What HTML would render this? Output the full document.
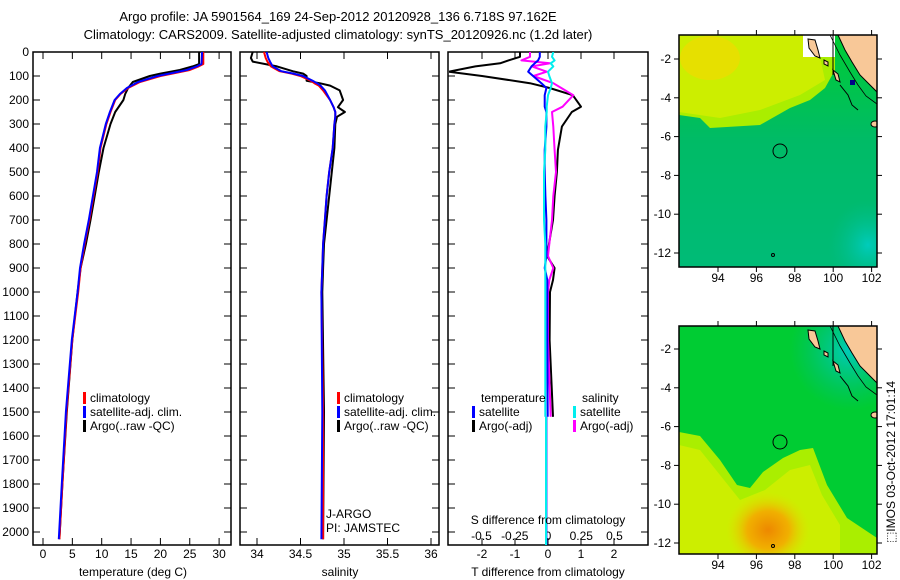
<!DOCTYPE html>
<html><head><meta charset="utf-8">
<style>
body{margin:0;background:#fff;}
svg{display:block;font-family:"Liberation Sans",sans-serif;}
text{font-size:12px;fill:#000;}
</style></head>
<body>
<svg id="chart" width="900" height="580" viewBox="0 0 900 580" xmlns="http://www.w3.org/2000/svg">
<text x="338" y="21" text-anchor="middle" style="font-size:13px">Argo profile: JA 5901564_169 24-Sep-2012 20120928_136 6.718S 97.162E</text>
<text x="338" y="39" text-anchor="middle" style="font-size:13px">Climatology: CARS2009. Satellite-adjusted climatology: synTS_20120926.nc (1.2d later)</text>
<g id="maps"></g>
<g id="panels"></g>
<text transform="translate(895,462) rotate(-90)" text-anchor="middle">⬚IMOS 03-Oct-2012 17:01:14</text>
</svg>
<script>
// ---- data ----
const depthT = [0,50,60,75,90,100,125,150,175,200,250,300,400,500,600,700,800,900,1000,1200,1500,1800,2030];
const tempClim = [27.3,27.3,26.5,25,22,20,16.5,14.5,13.2,12.3,11.5,10.8,9.8,9.3,8.6,7.9,7.1,6.4,6.0,5.0,4.0,3.3,2.8];
const tempSat = [27.1,27.0,26.2,24.5,21.5,19.5,16.2,14.3,13.1,12.2,11.4,10.7,9.7,9.2,8.5,7.8,7.0,6.3,5.9,4.9,3.9,3.2,2.7];
const tempArgo = [26.6,26.6,25.5,23.3,20,18.2,15.3,14.5,14.0,13.7,12.3,11.5,10.3,9.5,8.8,8.1,7.3,6.4,5.9,5.0,4.05,3.3,2.8];
const depthS = [0,25,40,60,80,90,100,120,130,140,160,200,230,250,270,300,400,500,600,700,800,900,1000,1500,2030];
const salClim = [34.08,34.10,34.12,34.16,34.26,34.4,34.5,34.62,34.66,34.71,34.76,34.84,34.88,34.9,34.9,34.89,34.87,34.83,34.8,34.78,34.76,34.75,34.74,34.76,34.76];
const salSat = [34.11,34.13,34.15,34.18,34.28,34.42,34.53,34.64,34.69,34.73,34.78,34.84,34.88,34.9,34.9,34.89,34.87,34.83,34.8,34.78,34.76,34.75,34.74,34.75,34.74];
const salArgo = [33.95,33.93,33.95,34.23,34.41,34.53,34.57,34.57,34.72,34.84,34.95,34.99,34.93,35.01,34.92,34.90,34.89,34.86,34.83,34.80,34.77,34.76,34.75,34.77,34.76];
const depthD = [0,20,35,47,60,82,100,130,150,180,228,250,311,408,500,600,700,800,850,900,950,1000,1200,1520];
const dTsat = [-0.25,-0.25,-0.3,-0.4,-0.5,-0.6,-0.45,-0.2,-0.05,-0.1,-0.1,-0.05,-0.05,-0.1,-0.1,-0.08,-0.05,-0.05,-0.05,-0.1,-0.02,-0.02,-0.02,-0.01];
const dTargo = [-0.85,-0.85,-1.2,-1.45,-2.2,-3.0,-2.0,-0.55,0.05,0.75,1.0,0.72,0.42,0.3,0.27,0.2,0.15,0.03,-0.03,0.2,0.15,0.06,0.05,0.15];
const dSsat = [0.04,0.03,0.05,0.02,0.04,0.0,0.01,0.03,0.02,0.0,-0.01,-0.01,-0.02,-0.02,-0.03,-0.03,-0.03,-0.02,-0.02,-0.02,-0.02,-0.02,-0.02,-0.02];
const dSargo = [-0.135,-0.135,-0.2,0.015,-0.12,-0.01,-0.11,0.04,0.1,0.19,0.11,0.03,0.04,0.05,0.06,0.04,0.03,0.01,0.0,0.04,0.01,0.0,0.0,0.02];
const depthTicks = [0,100,200,300,400,500,600,700,800,900,1000,1100,1200,1300,1400,1500,1600,1700,1800,1900,2000];
const tempTicks = [0,5,10,15,20,25,30];
const salTicks = [34,34.5,35,35.5,36];
const salTickLabels = ["34","34.5","35","35.5","36"];
const dTTicks = [-2,-1,0,1,2];
const dSTicks = [-0.5,-0.25,0,0.25,0.5];
const dSTickLabels = ["-0.5","-0.25","0","0.25","0.5"];
const lonTicks = [94,96,98,100,102];
const latTicks = [-2,-4,-6,-8,-10,-12];

const NS="http://www.w3.org/2000/svg";
function mk(tag,attrs,parent,txt){const e=document.createElementNS(NS,tag);for(const k in attrs)e.setAttribute(k,attrs[k]);if(txt!==undefined)e.textContent=txt;parent.appendChild(e);return e;}
const panels=document.getElementById('panels');
const Y0=52,Y1=545;
const yD=d=>52+d*0.24;
const xT=t=>43+t*5.87;
const xS=s=>257+(s-34)*87;
const xDT=t=>548+t*33;
const xDS=s=>548+s*133;

function frame(x0,x1,name){
  const r=mk('rect',{x:x0,y:Y0,width:x1-x0,height:Y1-Y0,fill:'none',stroke:'#000','stroke-width':1.5},panels);
  
  
  depthTicks.forEach(d=>{
    mk('line',{x1:x0,x2:x0+7,y1:yD(d),y2:yD(d),stroke:'#000'},panels);
    mk('line',{x1:x1-7,x2:x1,y1:yD(d),y2:yD(d),stroke:'#000'},panels);
  });
}
function line(xs,ds,fx,color,w,name,clipId){
  const pts=xs.map((v,i)=>fx(v).toFixed(1)+','+yD(ds[i]).toFixed(1)).join(' ');
  const p=mk('polyline',{points:pts,fill:'none',stroke:color,'stroke-width':w,'stroke-linejoin':'round'},panels);
  if(clipId)p.setAttribute('clip-path','url(#'+clipId+')');
  
  
}
const defs=mk('defs',{},panels);
const cp=mk('clipPath',{id:'c3'},defs);mk('rect',{x:449,y:52,width:198,height:493},cp);

// Panel 1
frame(33,231,'temperature-panel-frame');
depthTicks.forEach(d=>{
  const t=mk('text',{x:29,y:yD(d)+4,'text-anchor':'end'},panels,String(d));
  
  
});
tempTicks.forEach(v=>{
  mk('line',{x1:xT(v),x2:xT(v),y1:Y1,y2:Y1-7,stroke:'#000'},panels);
  mk('line',{x1:xT(v),x2:xT(v),y1:Y0,y2:Y0+7,stroke:'#000'},panels);
  const t=mk('text',{x:xT(v),y:558,'text-anchor':'middle'},panels,String(v));
  
  
});
line(tempArgo,depthT,xT,'#000',2,'temperature-argo-line');
line(tempClim,depthT,xT,'#f00',2,'temperature-climatology-line');
line(tempSat,depthT,xT,'#00f',2,'temperature-satellite-line');
mk('text',{x:133,y:576,'text-anchor':'middle',},panels,'temperature (deg C)');

// Panel 2
frame(240,439,'salinity-panel-frame');
salTicks.forEach((v,i)=>{
  mk('line',{x1:xS(v),x2:xS(v),y1:Y1,y2:Y1-7,stroke:'#000'},panels);
  mk('line',{x1:xS(v),x2:xS(v),y1:Y0,y2:Y0+7,stroke:'#000'},panels);
  const t=mk('text',{x:xS(v),y:558,'text-anchor':'middle'},panels,salTickLabels[i]);
  
  
});
line(salArgo,depthS,xS,'#000',2,'salinity-argo-line');
line(salClim,depthS,xS,'#f00',2,'salinity-climatology-line');
line(salSat,depthS,xS,'#00f',2,'salinity-satellite-line');
mk('text',{x:340,y:576,'text-anchor':'middle',},panels,'salinity');
mk('text',{x:326,y:518,},panels,'J-ARGO');
mk('text',{x:326,y:532,},panels,'PI: JAMSTEC');

// Panel 3
frame(448,648,'difference-panel-frame');
dTTicks.forEach(v=>{
  mk('line',{x1:xDT(v),x2:xDT(v),y1:Y1,y2:Y1-7,stroke:'#000'},panels);
  mk('line',{x1:xDT(v),x2:xDT(v),y1:Y0,y2:Y0+7,stroke:'#000'},panels);
  const t=mk('text',{x:xDT(v),y:558,'text-anchor':'middle'},panels,String(v));
  
  
});
dSTicks.forEach((v,i)=>{
  const t=mk('text',{x:xDS(v),y:540,'text-anchor':'middle'},panels,dSTickLabels[i]);
  
  
});
line(dTargo,depthD,xDT,'#000',2,'t-difference-argo-line','c3');
line(dSargo,depthD,xDS,'#f0f',2,'s-difference-argo-line','c3');
line(dTsat,depthD,xDT,'#00f',2,'t-difference-satellite-line','c3');
line(dSsat,depthD,xDS,'#0ee',2,'s-difference-satellite-line','c3');
mk('line',{x1:xDT(-0.05),x2:xDT(-0.05),y1:yD(1520),y2:Y1,stroke:'#00f','stroke-width':2},panels);
mk('line',{x1:xDS(-0.015),x2:xDS(-0.015),y1:yD(1520),y2:Y1,stroke:'#0ee','stroke-width':2},panels);
mk('text',{x:548,y:524,'text-anchor':'middle',},panels,'S difference from climatology');
mk('text',{x:548,y:576,'text-anchor':'middle',},panels,'T difference from climatology');

// legends
function leg(x,y,color,label,name){
  mk('rect',{x:x,y:y-10,width:3,height:12,fill:color},panels);
  const t=mk('text',{x:x+7,y:y},panels,label);
  
  
}
leg(83,402,'#f00','climatology','legend-climatology');
leg(83,416,'#00f','satellite-adj. clim.','legend-satellite');
leg(83,430,'#000','Argo(..raw -QC)','legend-argo');
leg(337,402,'#f00','climatology','legend-climatology-2');
leg(337,416,'#00f','satellite-adj. clim.','legend-satellite-2');
leg(337,430,'#000','Argo(..raw -QC)','legend-argo-2');
mk('text',{x:481,y:402,},panels,'temperature');
mk('text',{x:582,y:402,},panels,'salinity');
leg(472,416,'#00f','satellite','legend-t-satellite');
leg(472,430,'#000','Argo(-adj)','legend-t-argo');
leg(573,416,'#0ee','satellite','legend-s-satellite');
leg(573,430,'#f0f','Argo(-adj)','legend-s-argo');

// ---- maps ----
const maps=document.getElementById('maps');
const xLon=l=>718+(l-94)*19.2;
function drawMap(top,name,fills){
  const g=mk('g',{},maps);
  
  
  const cid='clip'+top;
  const c=mk('clipPath',{id:cid},g);mk('rect',{x:679,y:top,width:198,height:top===35?232:228},c);
  const inner=mk('g',{'clip-path':'url(#'+cid+')'},g);
  fills(inner,top);
  const dy=top-35;
  mk('polygon',{points:`838,${35+dy} 845,${50+dy} 852,${62+dy} 860,${75+dy} 870,${85+dy} 877,${92+dy} 877,${35+dy}`,fill:'#f8c898',stroke:'#000'},inner);
  mk('polyline',{points:`830,${35+dy} 840,${55+dy} 850,${72+dy} 858,${85+dy} 866,${96+dy} 877,${104+dy}`,fill:'none',stroke:'#000','stroke-width':0.8},inner);
  mk('line',{x1:833,x2:833,y1:35+dy,y2:75+dy,stroke:'#000'},inner);
  mk('polygon',{points:`808,${39+dy} 815,${40+dy} 818,${50+dy} 820,${58+dy} 815,${56+dy} 809,${48+dy}`,fill:'#f8c898',stroke:'#000'},inner);
  mk('polygon',{points:`824,${60+dy} 828,${62+dy} 828,${66+dy} 824,${64+dy}`,fill:'#f8c898',stroke:'#000'},inner);
  mk('polygon',{points:`833,${70+dy} 838,${74+dy} 840,${82+dy} 836,${80+dy}`,fill:'#f8c898',stroke:'#000'},inner);
  mk('polyline',{points:`840,${85+dy} 848,${95+dy} 852,${105+dy} 858,${110+dy}`,fill:'none',stroke:'#000'},inner);
  mk('ellipse',{cx:875,cy:124+dy,rx:4,ry:3,fill:'#f8c898',stroke:'#000'},inner);
  mk('circle',{cx:773,cy:255+dy,r:1.5,fill:'none',stroke:'#000'},inner);
  mk('circle',{cx:780,cy:151+dy,r:7,fill:'none',stroke:'#000'},inner);
  mk('rect',{x:679,y:top,width:198,height:top===35?232:228,fill:'none',stroke:'#000','stroke-width':1.5},g);
  const bottom=top===35?267:554;
  lonTicks.forEach(l=>{
    mk('line',{x1:xLon(l),x2:xLon(l),y1:top,y2:top-5,stroke:'#000'},g);
    mk('line',{x1:xLon(l),x2:xLon(l),y1:bottom,y2:bottom+5,stroke:'#000'},g);
    const t=mk('text',{x:xLon(l),y:bottom+15,'text-anchor':'middle'},g,String(l));
    
    
  });
  latTicks.forEach(la=>{
    const y=(top===35?59:349)+(-2-la)*19.4;
    mk('line',{x1:679,x2:674,y1:y,y2:y,stroke:'#000'},g);
    mk('line',{x1:877,x2:882,y1:y,y2:y,stroke:'#000'},g);
    const t=mk('text',{x:671,y:y+4,'text-anchor':'end'},g,String(la));
    
    
  });
}
const gdefs=mk('defs',{},maps);
const g1=mk('linearGradient',{id:'g1',x1:0,y1:0,x2:0,y2:1},gdefs);
mk('stop',{offset:'0','stop-color':'#00cc33'},g1);mk('stop',{offset:'0.45','stop-color':'#00bb66'},g1);mk('stop',{offset:'1','stop-color':'#00bb77'},g1);
const g2=mk('radialGradient',{id:'g2',cx:0.5,cy:0.5,r:0.5},gdefs);
mk('stop',{offset:'0','stop-color':'#ee8800'},g2);mk('stop',{offset:'0.5','stop-color':'#f0b000'},g2);mk('stop',{offset:'1','stop-color':'#e0e000','stop-opacity':0},g2);
const g3=mk('radialGradient',{id:'g3',cx:0.5,cy:0.5,r:0.5},gdefs);
mk('stop',{offset:'0','stop-color':'#00ccbb'},g3);mk('stop',{offset:'1','stop-color':'#00bb88','stop-opacity':0},g3);

drawMap(35,'sst-map',(g,top)=>{
  mk('rect',{x:679,y:35,width:198,height:232,fill:'url(#g1)'},g);
  mk('ellipse',{cx:868,cy:245,rx:40,ry:45,fill:'url(#g3)'},g);
  mk('polygon',{points:'679,35 835,35 835,70 825,88 810,100 790,108 760,125 710,128 700,118 679,115',fill:'#aaee00'},g);
  mk('polygon',{points:'679,35 803,35 803,57 820,57 825,80 800,95 760,110 720,118 679,112',fill:'#ccee00'},g);
  mk('ellipse',{cx:710,cy:58,rx:30,ry:22,fill:'#e6e000'},g);
  mk('rect',{x:803,y:35,width:32,height:22,fill:'#fff'},g);
  mk('rect',{x:850,y:80,width:5,height:5,fill:'#000088'},g);
});
drawMap(326,'sla-map',(g,top)=>{
  mk('rect',{x:679,y:326,width:198,height:228,fill:'#00cc33'},g);
  mk('ellipse',{cx:850,cy:350,rx:60,ry:60,fill:'url(#g3)'},g);
  mk('polygon',{points:'679,432 700,436 720,460 737,485 750,488 763,472 783,458 800,450 813,448 827,485 847,518 877,538 877,554 679,554',fill:'#aaee00'},g);
  mk('polygon',{points:'679,445 700,450 720,475 740,500 765,490 790,470 810,465 822,495 840,525 840,554 679,554',fill:'#ccee00'},g);
  mk('ellipse',{cx:768,cy:530,rx:42,ry:38,fill:'url(#g2)'},g);
});
</script>
</body></html>
